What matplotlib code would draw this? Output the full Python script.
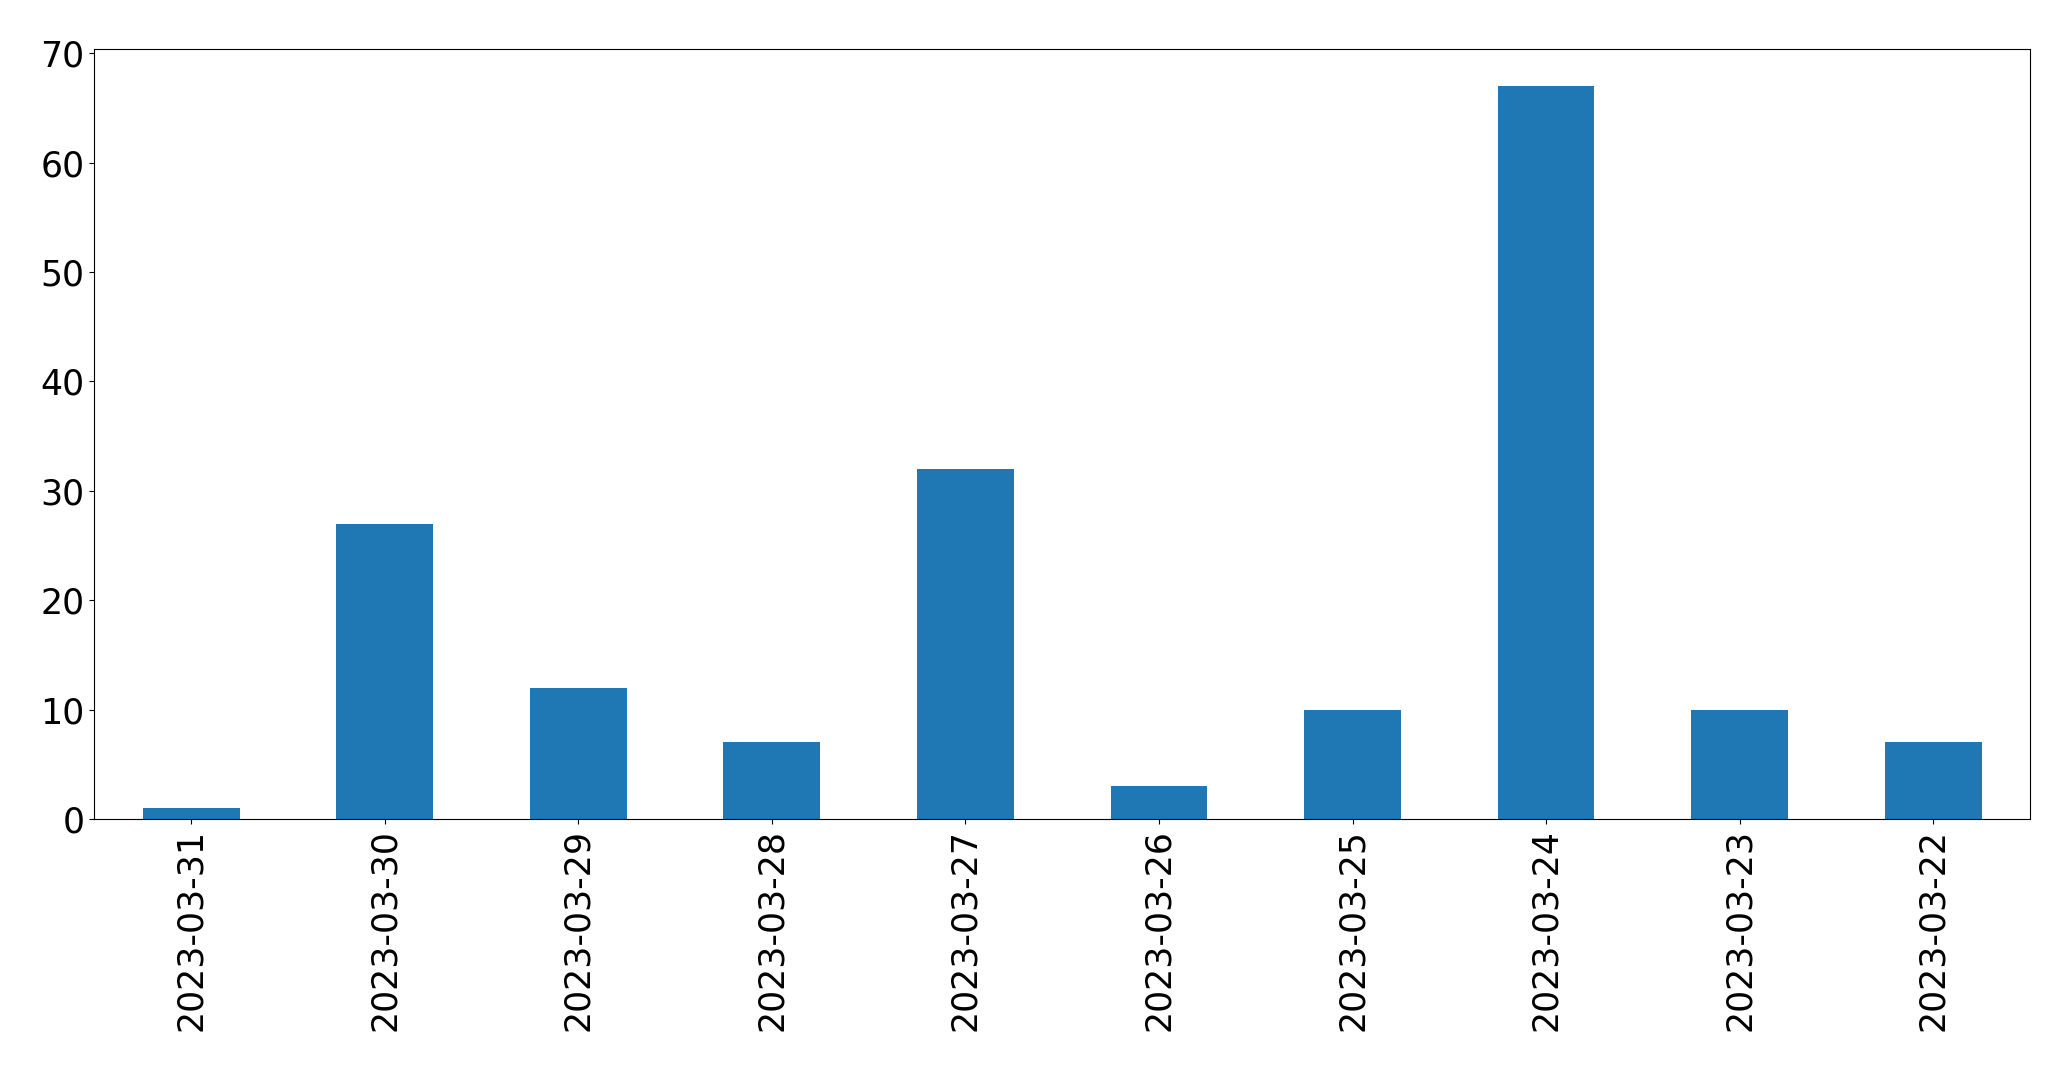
import matplotlib
matplotlib.use('Agg')
from matplotlib import pyplot as plt

dates = ['2023-03-31', '2023-03-30', '2023-03-29', '2023-03-28', '2023-03-27',
         '2023-03-26', '2023-03-25', '2023-03-24', '2023-03-23', '2023-03-22']
counts = [1, 27, 12, 7, 32, 3, 10, 67, 10, 7]

fig = plt.figure(figsize=(20.71, 10.71), dpi=100)
ax = fig.add_axes([0.0456, 0.2353, 0.9346, 0.7185])

x = range(len(dates))
ax.bar(x, counts, width=0.5, color='#1f77b4')
ax.set_xlim(-0.5, len(dates) - 0.5)
ax.set_ylim(0, max(counts) * 1.05)
ax.set_xticks(list(x))
ax.set_xticklabels(dates, rotation=90)
ax.tick_params(axis='both', labelsize=25, colors='black')
for s in ax.spines.values():
    s.set_color('black')

fig.savefig('out.png', dpi=100)
